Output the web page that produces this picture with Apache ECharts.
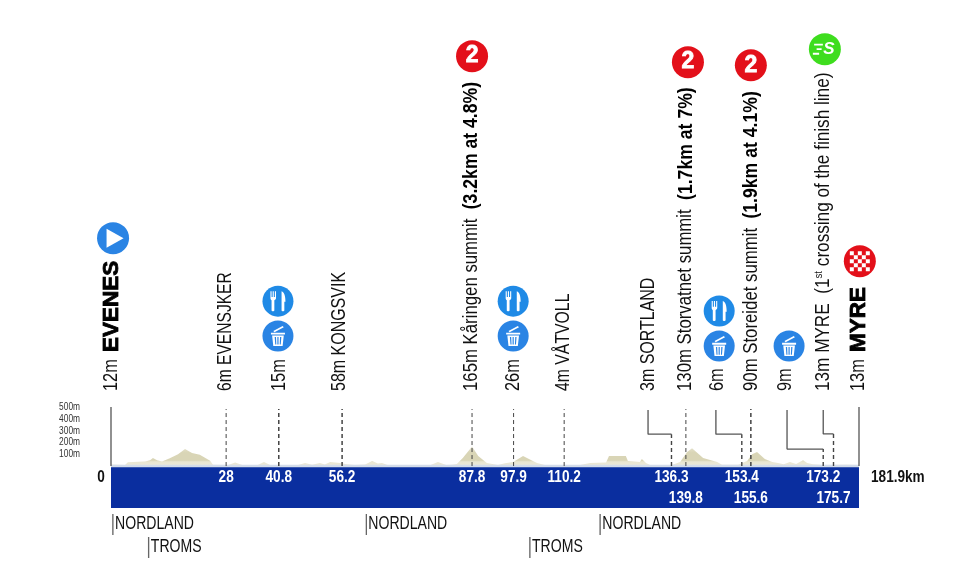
<!DOCTYPE html>
<html><head><meta charset="utf-8">
<style>html,body{margin:0;padding:0;background:#fff}#c{width:960px;height:573px}</style>
<script src="https://cdn.jsdelivr.net/npm/echarts@6/dist/echarts.min.js"></script>
</head><body><div id="c"></div>
<script>
const TOTAL_KM = 181.9;
const terrainKm = [0,3.4,4.1,8.3,9.5,10.2,11.2,12.4,14.3,16.3,18,19.7,21.6,24.1,24.8,28.5,30.2,31.9,35.7,37.2,38.7,45.5,47.2,48.9,50.8,52,53.3,55.7,57.4,59.3,61.8,63.5,64.9,65.9,67.4,77.6,79.5,81.5,82.9,84.1,85.6,87.8,89.3,91.4,94.1,95.8,97.8,100.2,102.6,103.6,105.5,114.1,116.5,120.4,121.1,125.2,125.7,128.6,129.1,130.1,131.1,136.4,138.4,140.1,141.3,144,147.4,148.6,152.5,154.7,155.9,157.1,159,160.8,162.2,163.6,165.1,166.6,168.3,169.3,170.7,173.2,181.9];
const terrainM  = [12,8,32,38,50,68,50,38,65,100,145,110,95,45,10,8,30,8,8,34,8,8,26,10,26,14,34,26,16,8,12,42,22,26,6,6,34,8,10,18,70,165,85,26,8,24,34,85,42,26,8,8,26,30,85,85,42,34,60,26,8,8,34,120,150,68,34,10,10,42,100,120,60,34,25,15,34,18,50,25,16,8,13];
const yTickLabels = [100,200,300,400,500];
const bandRow1 = [28,40.8,56.2,87.8,97.9,110.2,136.3,153.4,173.2];
const bandRow2 = [139.8,155.6,175.7];
const straightTicks = [28,40.8,56.2,87.8,97.9,110.2,139.8,155.6];
const elbows = [[130.6,136.3,270],[147.1,153.4,270],[164.4,173.2,144],[173.2,175.7,272]];
const stops = [
 [0.2,'{n|12m}'],
 [27.8,'{n|6m EVENSJKER}'],
 [40.9,'{n|15m}'],
 [55.5,'{n|58m KONGSVIK}'],
 [87.6,'{n|165m Kåringen summit  }{b|(3.2km at 4.8%)}'],
 [97.8,'{n|26m}'],
 [110,'{n|4m VÅTVOLL}'],
 [130.8,'{n|3m SORTLAND}'],
 [139.8,'{n|130m Storvatnet summit  }{b|(1.7km at 7%)}'],
 [147.4,'{n|6m}'],
 [155.8,'{n|90m Storeidet summit  }{b|(1.9km at 4.1%)}'],
 [164,'{n|9m}'],
 [173.2,'{n|13m MYRE  (1}{s|st}{n| crossing of the finish line)}'],
 [181.7,'{n|13m}']
];
const stopScale = [.84,.8,.84,.82,.86,.84,.81,.82,.86,.84,.86,.84,.88,.84];
const headlines = [[0.3,'EVENES'],[181.9,'MYRE']];
const regions = [[0.2,-491,'NORDLAND'],[8.9,-686,'TROMS'],[61.8,-491,'NORDLAND'],[101.6,-686,'TROMS'],[118.7,-491,'NORDLAND']];
const foodIcons = [[40.6,1398],[97.8,1398],[147.9,1314]];
const binIcons = [[40.6,1102],[97.8,1102],[147.9,1017],[164.9,1017]];
const climbIcons = [[87.8,3475],[140.3,3424],[155.6,3398]];
const startIcon = [[0.5,1932]];
const sprintIcon = [[173.6,3534]];
const finishIcon = [[182.1,1737]];

const SANS = '"Liberation Sans"';
const FORK = 'path://M2 0h1v6h1V0h1v6h1V0h1v7c0 1.5-1 2-1.5 2.5V20c0 1-2.5 1-2.5 0V9.5C2.5 9 2 8.500 2 7zM12 0c2.500 1 3.500 5 3.500 11h-1V20c0 1-2.500 1-2.500 0z';
const BIN = 'path://M1 7h12v2H1zM2 10h10l-1 11H3zM4.200 11.500l.5 8h.9l-.3-8zM6.500 11.500v8h1v-8zM8.800 11.500l-.3 8h.9l.5-8zM3 5.300L11 0l1 1.300L4 6.600z';
const PLAY = 'path://M0 0L12 7L0 14Z';
let checker = 'path://';
for (let r=0;r<5;r++) for (let c=0;c<5;c++) if((r+c)%2===0) checker+=`M${c} ${r}h1v1h-1z`;
const SPEED = 'path://M0 2h7v1.200H0zM2 5h4v1.200H2zM-1 8h5v1.200H-1z';

function textLayer(rows){
  return {type:'custom',clip:false,silent:true,z:7,coordinateSystem:'cartesian2d',encode:{x:0,y:1},
    data:rows.map(r=>[r.km,r.m]),
    renderItem:(p,api)=>{
      const c=api.coord([api.value(0),api.value(1)]), r=rows[p.dataIndex];
      return {type:'text',x:c[0]+(r.dx||0),y:c[1],rotation:r.rot||0,scaleX:r.sx||1,scaleY:1,
        style:Object.assign({text:r.text,align:r.align||'center',verticalAlign:'middle',fill:'#111',fontFamily:SANS},r.style||{})};
    }};
}
function iconSeries(data,color,size,glyph,gw,gh,text,textStyle,gOffset){
  const out=[{type:'scatter',clip:false,silent:true,z:5,data:data,symbol:'circle',symbolSize:size,itemStyle:{color:color,opacity:1},
    label:text?{show:true,position:'inside',formatter:text,color:'#fff',fontFamily:SANS,...textStyle}:{show:false}}];
  if(glyph) out.push({type:'scatter',clip:false,silent:true,z:6,data:data,symbol:glyph,symbolSize:[gw,gh],symbolOffset:gOffset||[0,0],itemStyle:{color:'#fff',opacity:1}});
  return out;
}
const solid = pts=>({type:'line',clip:false,silent:true,z:4,symbol:'none',data:pts,lineStyle:{color:'#555',width:1.3}});
const dashed = (pts,w)=>({type:'line',clip:false,silent:true,z:4,symbol:'none',data:pts,lineStyle:{color:'#444',width:w||1,type:[4,3]}});

const stopRich = {
  n:{fontFamily:SANS,fontSize:19.5,fill:'#111'},
  b:{fontFamily:SANS,fontSize:20.5,fontWeight:'bold',fill:'#000'},
  s:{fontFamily:SANS,fontSize:11,fill:'#111',verticalAlign:'top',lineHeight:19}
};
const headStyle = {fontSize:22.5,fontWeight:'bold',fill:'#000',stroke:'#000',lineWidth:.8};
const bandStyle = {fill:'#fff',fontWeight:'bold',fontSize:16};
const darkBold = {fill:'#111',fontWeight:'bold',fontSize:16};

const series=[
 {type:'line',silent:true,symbol:'none',z:2,data:terrainKm.map((k,i)=>[k,terrainM[i]]),lineStyle:{width:0},
  areaStyle:{opacity:1,color:{type:'linear',global:true,x:0,y:447,x2:0,y2:466,colorStops:[{offset:0,color:'#e6e3cf'},{offset:.3,color:'#d9d5b6'},{offset:.7,color:'#d9d5b6'},{offset:.78,color:'#e9e6d2'},{offset:1,color:'#ece9d8'}]}}},
 {type:'line',silent:true,symbol:'none',z:3,data:[[0,0],[TOTAL_KM,0]],lineStyle:{color:'#d3dcea',width:2.5},
  markArea:{silent:true,itemStyle:{color:'#0a2e9f',opacity:1},data:[[{coord:[0,0]},{coord:[TOTAL_KM,-356]}]],z:3}},
 solid([[0,0],[0,500]]),solid([[TOTAL_KM,0],[TOTAL_KM,500]]),
 ...straightTicks.map(k=>dashed([[k,0],[k,483]],(k===40.8||k===56.2||k===155.6)?1.5:1)),
 ...elbows.map(e=>solid([[e[0],475],[e[0],e[2]],[e[1],e[2]]])),
 ...elbows.map(e=>dashed([[e[1],0],[e[1],e[2]]],1.4)),
 textLayer(stops.map((s,i)=>({km:s[0],m:636,text:s[1],rot:Math.PI/2,sx:stopScale[i],align:'left',style:{rich:stopRich}}))),
 textLayer(headlines.map(h=>({km:h[0],m:966,text:h[1],rot:Math.PI/2,align:'left',style:headStyle}))),
 textLayer(bandRow1.map(k=>({km:k,m:-102,text:String(k),sx:.85,style:bandStyle}))),
 textLayer(bandRow2.map(k=>({km:k,m:-280,text:String(k),sx:.85,style:bandStyle}))),
 textLayer([{km:TOTAL_KM,m:-102,dx:12,text:'181.9km',sx:.85,align:'left',style:darkBold},
            {km:0,m:-102,dx:-10,text:'0',sx:.85,style:darkBold}]),
 textLayer(regions.map(r=>({km:r[0],m:r[1],dx:-1,text:'{p||}{t|'+r[2]+'}',sx:.74,align:'left',
   style:{rich:{p:{fontFamily:SANS,fontSize:22,fill:'#666'},t:{fontFamily:SANS,fontSize:19,fill:'#111'}}}}))),
 textLayer(yTickLabels.map(v=>({km:0,m:v,dx:-31,text:v+'m',sx:.76,align:'right',style:{fill:'#333',fontSize:11}}))),
 ...iconSeries(foodIcons,'#1f8ae6',31,FORK,15,20),
 ...iconSeries(binIcons,'#2a84e4',31,BIN,14,20),
 ...iconSeries(startIcon,'#2a84e4',32,PLAY,17,19,null,null,[2,0]),
 ...iconSeries(climbIcons,'#e3101a',32,null,0,0,'2',{fontSize:23,fontWeight:'bold',textBorderColor:'#fff',textBorderWidth:.8}),
 ...iconSeries(sprintIcon,'#3edd1e',32,SPEED,10,11,'S',{fontSize:17,fontWeight:'bold',fontStyle:'italic',offset:[4,0]},[-7,0]),
 ...iconSeries(finishIcon,'#e3101a',32,checker,20,20)
];

const chart=echarts.init(document.getElementById('c'),null,{renderer:'canvas'});
chart.setOption({
 animation:false,backgroundColor:'#fff',
 grid:{left:111,right:101,top:6,bottom:0.8},
 xAxis:{type:'value',min:0,max:TOTAL_KM,show:false},
 yAxis:{type:'value',min:-900,max:3900,interval:100,axisLine:{show:false},axisTick:{show:false},splitLine:{show:false},axisLabel:{show:false}},
 tooltip:{show:false},
 series
});
</script></body></html>
